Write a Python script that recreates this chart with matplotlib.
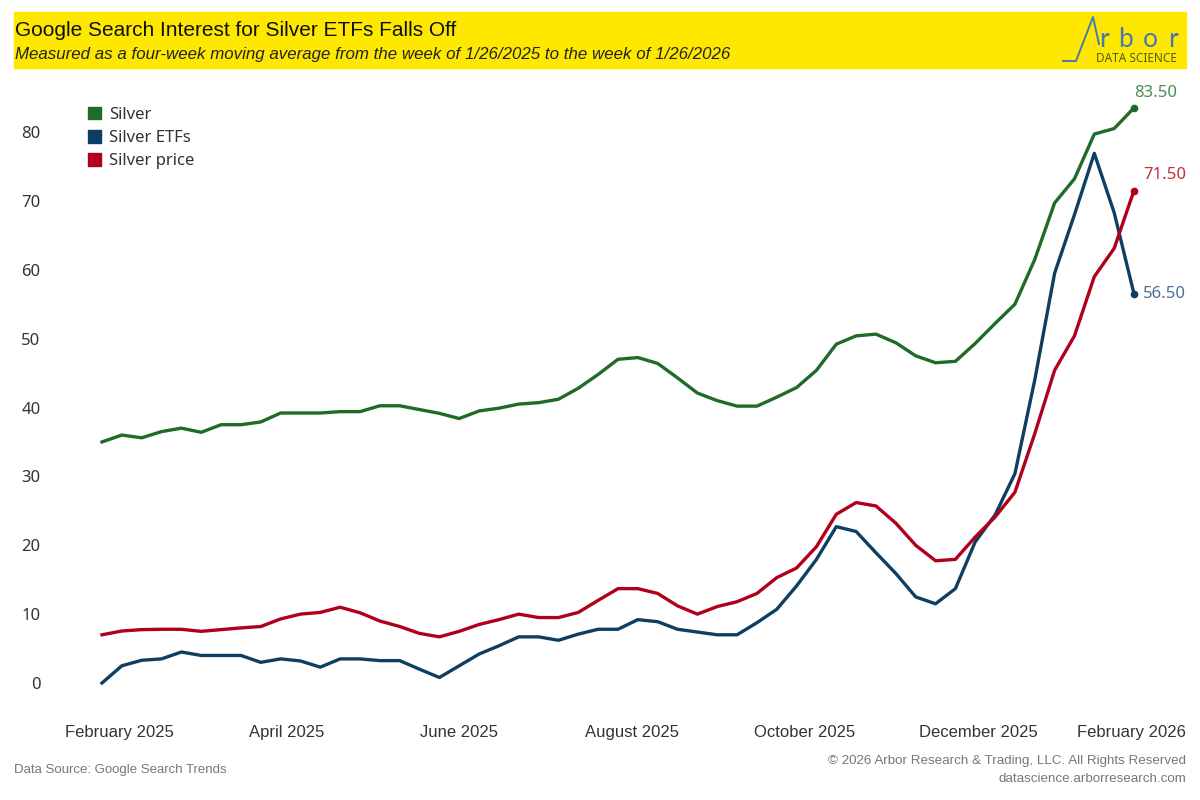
import numpy as np
import pandas as pd
import matplotlib
matplotlib.use("Agg")
import matplotlib.pyplot as plt
import matplotlib.dates as mdates
from matplotlib.lines import Line2D
from matplotlib.patches import Rectangle

## Data: four-week moving averages, weekly from 1/26/2025 to 1/26/2026
weeks = pd.date_range("2025-01-26", "2026-01-26", freq="7D")

silver = [35.0, 36.0, 35.6, 36.5, 37.0, 36.4, 37.5, 37.5, 37.9, 39.2,
          39.2, 39.2, 39.4, 39.4, 40.25, 40.25, 39.7, 39.15, 38.4, 39.5,
          39.9, 40.5, 40.7, 41.2, 42.8, 44.8, 47.0, 47.25, 46.4, 44.3,
          42.1, 41.0, 40.2, 40.2, 41.5, 42.9, 45.4, 49.2, 50.4, 50.65,
          49.4, 47.5, 46.5, 46.7, 49.3, 52.2, 55.0, 61.5, 69.7, 73.2,
          79.7, 80.5, 83.5]

silver_etfs = [0.0, 2.5, 3.3, 3.5, 4.5, 4.0, 4.0, 4.0, 3.0, 3.5,
               3.2, 2.3, 3.5, 3.5, 3.25, 3.25, 2.0, 0.8, 2.5, 4.2,
               5.4, 6.7, 6.7, 6.2, 7.1, 7.8, 7.8, 9.2, 8.9, 7.8,
               7.4, 7.0, 7.0, 8.75, 10.7, 14.1, 17.95, 22.7, 22.0, 18.9,
               15.9, 12.5, 11.5, 13.7, 20.5, 24.4, 30.4, 44.0, 59.5, 68.0,
               76.9, 68.3, 56.5]

silver_price = [7.0, 7.55, 7.75, 7.8, 7.8, 7.5, 7.75, 8.0, 8.2, 9.3,
                10.0, 10.25, 11.0, 10.2, 9.0, 8.2, 7.2, 6.7, 7.5, 8.5,
                9.2, 10.0, 9.5, 9.5, 10.25, 12.0, 13.7, 13.7, 13.0, 11.2,
                10.0, 11.1, 11.8, 13.0, 15.3, 16.7, 19.8, 24.5, 26.2, 25.7,
                23.2, 20.0, 17.75, 17.95, 21.2, 24.1, 27.7, 36.2, 45.4, 50.4,
                59.0, 63.1, 71.5]

series_names = ["Silver", "Silver ETFs", "Silver price"]
line_colors = ["#1f6b27", "#0e3f63", "#b0001c"]
label_colors = ["#4a8a55", "#4a6f95", "#c0303f"]
month_ticks = pd.date_range("2025-02-01", "2025-12-01", freq="2MS")
month_labels = [d.strftime("%B %Y") for d in month_ticks]
last_label = "February 2026"

main_font = ["Noto Sans", "DejaVu Sans"]
narrow_font = ["Liberation Sans Narrow", "Liberation Sans", "DejaVu Sans"]
plt.rcParams["font.family"] = main_font

fig = plt.figure(figsize=(12, 8), dpi=100)

## Header band
fig.patches.append(Rectangle((14 / 1200, 1 - 68 / 800), 1172 / 1200, 56 / 800,
                             transform=fig.transFigure, color="#ffe800", zorder=0))
fig.text(15 / 1200, 1 - 30 / 800, "Google Search Interest for Silver ETFs Falls Off",
         fontsize=15, family=narrow_font, va="center", ha="left", color="#111111")
fig.text(15 / 1200, 1 - 54 / 800,
         "Measured as a four-week moving average from the week of 1/26/2025 to the week of 1/26/2026",
         fontsize=12.2, family=narrow_font, style="italic", va="center", ha="left", color="#222222")

# logo: "A" stroke, then spaced-out "rbor"
logo_blue = "#4a78b0"
logo_x = np.array([1063, 1076, 1093, 1099]) / 1200
logo_y = 1 - np.array([61, 61, 17, 44]) / 800
fig.lines.append(Line2D(logo_x, logo_y, transform=fig.transFigure, color=logo_blue, lw=1.4))
for ch, cx in zip("rbor", [1104, 1125, 1150, 1173]):
    fig.text(cx / 1200, 1 - 47 / 800, ch, fontsize=19, color=logo_blue,
             family=["Lato", "DejaVu Sans"], va="baseline", ha="center")
fig.text(1136 / 1200, 1 - 59 / 800, "DATA SCIENCE", fontsize=8.5, color="#555533",
         family=main_font, va="center", ha="center")

## Plot area
ax = fig.add_axes([60 / 1200, 100 / 800, 1130 / 1200, 610 / 800])
px_per_day = (1134 - 102) / 364
x0 = mdates.date2num(weeks[0])
ax.set_xlim(x0 - 42 / px_per_day, x0 + 364 + 56 / px_per_day)
ax.set_ylim(-17 / 6.8875, 80 + 42 / 6.8875)

for name, vals, c in zip(series_names, [silver, silver_etfs, silver_price], line_colors):
    ax.plot(weeks, vals, color=c, lw=2.4, solid_joinstyle="round", label=name)
    ax.plot(weeks[-1], vals[-1], "o", color=c, ms=4.5)

# end labels
ax.annotate(f"{silver[-1]:.2f}", (weeks[-1], silver[-1]), xytext=(0, 11),
            textcoords="offset points", color=label_colors[0], fontsize=12,
            ha="left", va="center")
ax.annotate(f"{silver_price[-1]:.2f}", (weeks[-1], silver_price[-1]), xytext=(6.5, 11),
            textcoords="offset points", color=label_colors[2], fontsize=12,
            ha="left", va="center")
ax.annotate(f"{silver_etfs[-1]:.2f}", (weeks[-1], silver_etfs[-1]), xytext=(6.5, 0),
            textcoords="offset points", color=label_colors[1], fontsize=12,
            ha="left", va="center")

ax.set_yticks(range(0, 81, 10))
ax.set_xticks(month_ticks)
ax.set_xticklabels(month_labels)
ax.tick_params(axis="both", length=0, labelsize=12, labelcolor="#333333")
ax.tick_params(axis="y", pad=14)
ax.tick_params(axis="x", pad=18)
for lab in ax.get_xticklabels():
    lab.set_fontfamily(narrow_font)
    lab.set_fontsize(12)
ax.text(1.0 - 4 / 1130, -32 / 610, last_label, transform=ax.transAxes, ha="right",
        va="center", fontsize=12, family=narrow_font, color="#333333")
for s in ax.spines.values():
    s.set_visible(False)

handles = [Rectangle((0, 0), 1, 1, color=c) for c in line_colors]
leg = ax.legend(handles, series_names, loc="upper left", bbox_to_anchor=(21 / 1130, 1 - 10 / 610),
                frameon=False, fontsize=12, handlelength=0.8, handleheight=0.8,
                handletextpad=0.5, labelspacing=0.42, borderaxespad=0)
for t in leg.get_texts():
    t.set_color("#333333")

## Footer
fig.text(14 / 1200, 1 - 770 / 800, "Data Source: Google Search Trends", fontsize=9.5,
         family=narrow_font, color="#777777", va="center", ha="left")
fig.text(1186 / 1200, 1 - 761 / 800, "© 2026 Arbor Research & Trading, LLC. All Rights Reserved",
         fontsize=9.6, family=narrow_font, color="#777777", va="center", ha="right")
fig.text(1186 / 1200, 1 - 779 / 800, "datascience.arborresearch.com", fontsize=9.6,
         family=narrow_font, color="#777777", va="center", ha="right")

fig.savefig("out.png", dpi=100)
